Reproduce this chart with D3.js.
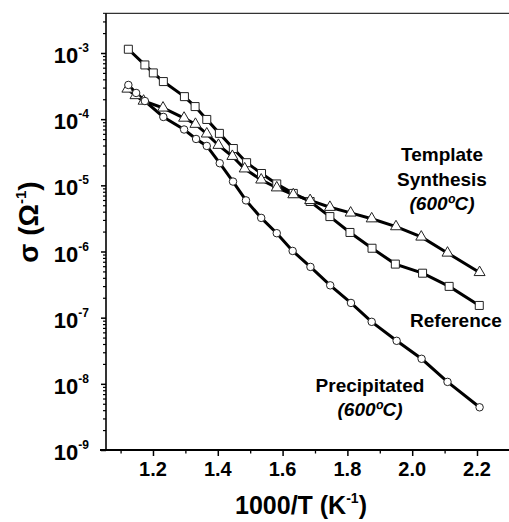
<!DOCTYPE html>
<html>
<head>
<meta charset="utf-8">
<script src="https://cdn.jsdelivr.net/npm/d3@7"></script>
<style>
  html, body { margin: 0; padding: 0; background: #fff; }
  svg { display: block; font-family: "Liberation Sans", Arial, sans-serif; }
</style>
</head>
<body>
<svg id="chart" width="509" height="522"></svg>
<script>
// --- data: 1000/T (K^-1) vs sigma (ohm^-1) ---
const refX = [1.124, 1.175, 1.201, 1.232, 1.297, 1.330, 1.366, 1.405, 1.448, 1.489, 1.535,
              1.582, 1.633, 1.685, 1.746, 1.808, 1.876, 1.948, 2.032, 2.114, 2.207];
const refY = [1.14e-3, 6.6e-4, 5.0e-4, 3.7e-4, 2.19e-4, 1.55e-4, 9.9e-5, 6.1e-5, 3.6e-5, 2.2e-5, 1.51e-5,
              1.05e-5, 7.55e-6, 5.7e-6, 3.37e-6, 1.94e-6, 1.12e-6, 6.45e-7, 4.7e-7, 2.97e-7, 1.53e-7];

const tmplX = [1.121, 1.146, 1.171, 1.231, 1.296, 1.331, 1.366, 1.402, 1.445, 1.483, 1.534,
               1.582, 1.633, 1.685, 1.746, 1.810, 1.875, 1.950, 2.028, 2.109, 2.208];
const tmplY = [2.86e-4, 2.28e-4, 1.88e-4, 1.48e-4, 1.04e-4, 8.4e-5, 6.0e-5, 4.04e-5, 2.75e-5, 1.78e-5, 1.21e-5,
               9.2e-6, 7.24e-6, 5.92e-6, 4.67e-6, 3.83e-6, 3.13e-6, 2.38e-6, 1.66e-6, 9.5e-7, 4.83e-7];

const precX = [1.124, 1.148, 1.175, 1.232, 1.296, 1.333, 1.366, 1.406, 1.447, 1.487, 1.534,
               1.582, 1.631, 1.686, 1.747, 1.811, 1.875, 1.952, 2.029, 2.109, 2.208];
const precY = [3.29e-4, 2.49e-4, 1.88e-4, 1.08e-4, 6.98e-5, 5.02e-5, 3.94e-5, 2.16e-5, 1.14e-5, 5.92e-6, 3.22e-6,
               1.89e-6, 1.02e-6, 5.85e-7, 3.08e-7, 1.67e-7, 8.65e-8, 4.47e-8, 2.39e-8, 1.07e-8, 4.42e-9];

const xTicks = [1.2, 1.4, 1.6, 1.8, 2.0, 2.2];
const xMinor = [1.1, 1.3, 1.5, 1.7, 1.9, 2.1, 2.3];
const yExps = [-9, -8, -7, -6, -5, -4, -3];

const svg = d3.select("#chart");

const x = d3.scaleLinear().domain([1.055, 2.3]).range([106, 509.4]);
const y = d3.scaleLog().domain([1e-9, Math.pow(10, -2.4)]).range([450, 13.3]);

// --- frame ---
svg.append("line")
    .attr("x1", 103).attr("x2", 509).attr("y1", 13.3).attr("y2", 13.3)
    .attr("stroke", "#333").attr("stroke-width", 1.3);

// --- x axis ---
const xAxis = svg.append("g")
    .attr("transform", "translate(0,450)")
    .call(d3.axisBottom(x).tickValues(xTicks).tickSize(6).tickFormat(""));
xAxis.select(".domain").attr("d", "M100,0H509").attr("stroke-width", 2);
xAxis.selectAll(".tick line").attr("stroke-width", 1.5);

svg.append("g")
    .attr("transform", "translate(0,450)")
    .call(d3.axisBottom(x).tickValues(xMinor).tickSize(3.5).tickFormat(""))
    .call(g => g.select(".domain").remove())
    .selectAll(".tick line").attr("stroke-width", 1.3);

svg.append("g").selectAll("text")
    .data(xTicks)
    .join("text")
    .attr("x", d => x(d))
    .attr("y", 476)
    .attr("text-anchor", "middle")
    .attr("font-size", 20)
    .attr("font-weight", "bold")
    .text(d => d.toFixed(1));

// --- y axis ---
const majors = yExps.map(e => Math.pow(10, e));
const minors = [];
yExps.forEach(e => {
    for (let k = 2; k <= 9; k++) {
        const v = k * Math.pow(10, e);
        if (v <= y.domain()[1]) minors.push(v);
    }
});

const yAxis = svg.append("g")
    .attr("transform", "translate(106,0)")
    .call(d3.axisLeft(y).tickValues(majors).tickSize(5).tickFormat(""));
yAxis.select(".domain").attr("d", "M0,450V13.3").attr("stroke-width", 1.6);
yAxis.selectAll(".tick line").attr("stroke-width", 1.5);

svg.append("g")
    .attr("transform", "translate(106,0)")
    .call(d3.axisLeft(y).tickValues(minors).tickSize(3).tickFormat(""))
    .call(g => g.select(".domain").remove())
    .selectAll(".tick line").attr("stroke-width", 1.2);

const yLab = svg.append("g").selectAll("text")
    .data(yExps)
    .join("text")
    .attr("x", 89)
    .attr("y", d => y(Math.pow(10, d)) + 10)
    .attr("text-anchor", "end")
    .attr("font-weight", "bold");
yLab.append("tspan").attr("font-size", 22).text("10");
yLab.append("tspan").attr("font-size", 12).attr("dy", -11).text(d => String(d));

// --- axis titles ---
const xt = svg.append("text")
    .attr("x", 301).attr("y", 514)
    .attr("text-anchor", "middle")
    .attr("font-size", 25).attr("font-weight", "bold");
xt.append("tspan").text("1000/T (K");
xt.append("tspan").attr("font-size", 14).attr("dy", -11).text("-1");
xt.append("tspan").attr("dy", 11).text(")");

const yt = svg.append("text")
    .attr("transform", "translate(38,222) rotate(-90)")
    .attr("text-anchor", "middle")
    .attr("font-size", 28).attr("font-weight", "bold");
yt.append("tspan").text("σ (Ω");
yt.append("tspan").attr("font-size", 15).attr("dy", -12).text("-1");
yt.append("tspan").attr("dy", 12).text(")");

// --- series ---
const series = [
    { xs: refX, ys: refY, sym: d3.symbolSquare, size: 64 },
    { xs: tmplX, ys: tmplY, sym: d3.symbolTriangle, size: 52 },
    { xs: precX, ys: precY, sym: d3.symbolCircle, size: 44 }
];

const line = d3.line().x(d => x(d[0])).y(d => y(d[1]));

series.forEach(s => {
    const pts = s.xs.map((v, i) => [v, s.ys[i]]);
    svg.append("path")
        .datum(pts)
        .attr("d", line)
        .attr("fill", "none")
        .attr("stroke", "#000")
        .attr("stroke-width", 3);
});

series.forEach(s => {
    const pts = s.xs.map((v, i) => [v, s.ys[i]]);
    svg.append("g").selectAll("path")
        .data(pts)
        .join("path")
        .attr("transform", d => `translate(${x(d[0])},${y(d[1])})`)
        .attr("d", d3.symbol().type(s.sym).size(s.size))
        .attr("fill", "#fff")
        .attr("stroke", "#222")
        .attr("stroke-width", 1);
});

// --- annotations ---
function note(lines, cx) {
    lines.forEach(l => {
        svg.append("text")
            .attr("x", cx).attr("y", l.y)
            .attr("text-anchor", "middle")
            .attr("font-size", 19)
            .attr("font-weight", "bold")
            .attr("font-style", l.italic ? "italic" : "normal")
            .text(l.t);
    });
}
note([{ t: "Template", y: 161 }, { t: "Synthesis", y: 186 }, { t: "(600ºC)", y: 210, italic: true }], 442);
note([{ t: "Reference", y: 327 }], 456);
note([{ t: "Precipitated", y: 392 }, { t: "(600ºC)", y: 416, italic: true }], 370);
</script>
</body>
</html>
